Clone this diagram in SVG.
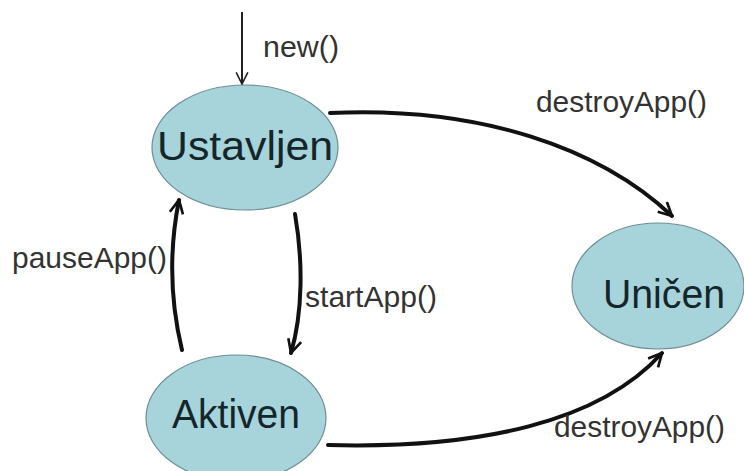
<svg xmlns="http://www.w3.org/2000/svg" width="744" height="471" viewBox="0 0 744 471">
<style>
.node{fill:#a7d3db;stroke:#6d8e94;stroke-width:1.2}
.ntext{font-family:"Liberation Sans",Arial,sans-serif;font-size:40px;fill:#15262b;text-anchor:middle}
.lbl{font-family:"Liberation Sans",Arial,sans-serif;font-size:30px;fill:#333}
.edge{fill:none;stroke:#111;stroke-width:4;stroke-linecap:round}
.thin{fill:none;stroke:#222;stroke-width:2}
</style>
<defs>
<marker id="arr" viewBox="0 0 12 12" refX="11" refY="6" markerWidth="4" markerHeight="4" orient="auto" markerUnits="strokeWidth">
<path d="M1,1 L11,6 L1,11" fill="none" stroke="#111" stroke-width="2"/>
</marker>
<marker id="arrT" viewBox="0 0 12 12" refX="11" refY="6" markerWidth="7" markerHeight="7" orient="auto" markerUnits="strokeWidth">
<path d="M1,1 L11,6 L1,11" fill="none" stroke="#222" stroke-width="1.4"/>
</marker>
</defs>
<g id="n-ustavljen">
<ellipse class="node" cx="245" cy="147.5" rx="93" ry="62.5"/>
<text class="ntext" x="245" y="160" textLength="176" lengthAdjust="spacingAndGlyphs">Ustavljen</text>
</g>
<g id="n-unicen">
<ellipse class="node" cx="658" cy="286" rx="86" ry="63"/>
<text class="ntext" x="664" y="308" textLength="122" lengthAdjust="spacingAndGlyphs">Uničen</text>
</g>
<g id="n-aktiven">
<ellipse class="node" cx="236" cy="418" rx="90" ry="63"/>
<text class="ntext" x="236" y="428" textLength="128" lengthAdjust="spacingAndGlyphs">Aktiven</text>
</g>
<g id="connectors">
<path class="thin" d="M242 12 L242 84" marker-end="url(#arrT)"/>
<path class="edge" d="M330 113 C480 106 600 148 672 216" marker-end="url(#arr)"/>
<path class="edge" d="M295 214 C303 260 303 312 291 353" marker-end="url(#arr)"/>
<path class="edge" d="M182 350 C170 300 169 250 179 200" marker-end="url(#arr)"/>
<path class="edge" d="M328 445 C480 449 600 422 662 353" marker-end="url(#arr)"/>
</g>
<g id="labels">
<text class="lbl" x="263" y="57" font-size="27" textLength="76" lengthAdjust="spacingAndGlyphs">new()</text>
<text class="lbl" x="536" y="112" textLength="171" lengthAdjust="spacingAndGlyphs">destroyApp()</text>
<text class="lbl" x="12" y="268" textLength="155" lengthAdjust="spacingAndGlyphs">pauseApp()</text>
<text class="lbl" x="305" y="307" textLength="132" lengthAdjust="spacingAndGlyphs">startApp()</text>
<text class="lbl" x="554" y="437" textLength="171" lengthAdjust="spacingAndGlyphs">destroyApp()</text>
</g>
</svg>
